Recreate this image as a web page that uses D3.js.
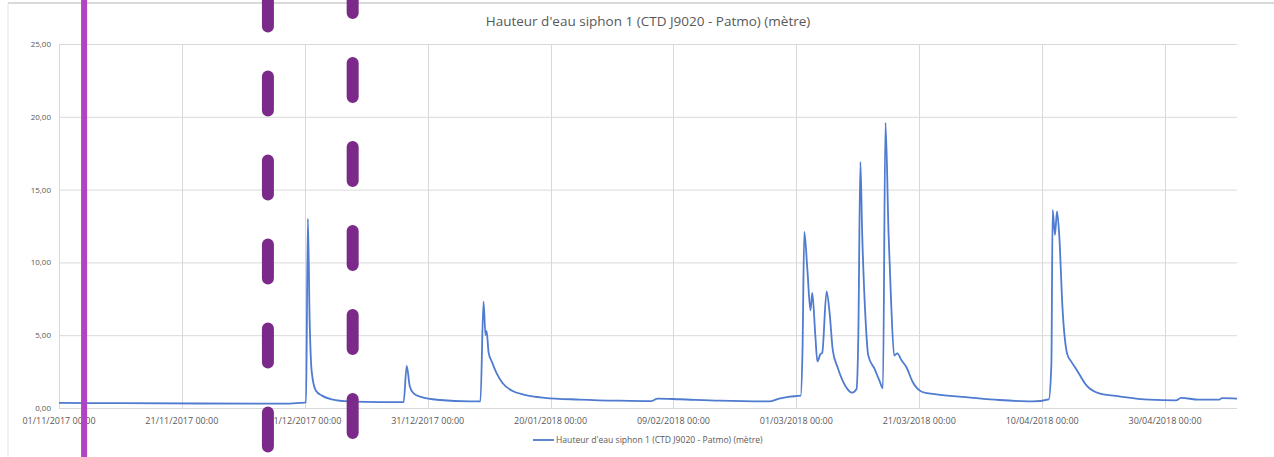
<!DOCTYPE html>
<html>
<head>
<meta charset="utf-8">
<script src="https://cdn.jsdelivr.net/npm/d3@7"></script>
<style>
  body { margin: 0; background: #fff; }
  svg text { font-family: 'Open Sans', 'Liberation Sans', sans-serif; fill: #595959; }
</style>
</head>
<body>
<div id="visualization"></div>
<script>
const width = 1274
const height = 457

const title = "Hauteur d'eau siphon 1 (CTD J9020 - Patmo) (mètre)"

/* Series: date, water height (m) */
const dates = [
    '2017-11-01T00:00', '2017-11-11T00:00', '2017-11-24T00:00', '2017-12-08T14:00', '2017-12-10T05:00',
    '2017-12-11T05:00', '2017-12-11T12:00', '2017-12-11T19:00', '2017-12-12T03:00', '2017-12-12T19:00',
    '2017-12-13T19:00', '2017-12-15T10:00', '2017-12-18T07:00', '2017-12-23T05:00', '2017-12-27T02:00',
    '2017-12-27T14:00', '2017-12-28T02:00', '2017-12-28T17:00', '2017-12-30T00:00', '2018-01-02T00:00',
    '2018-01-06T19:00', '2018-01-08T14:00', '2018-01-09T02:00', '2018-01-09T10:00', '2018-01-09T14:00',
    '2018-01-09T22:00', '2018-01-10T10:00', '2018-01-11T05:00', '2018-01-12T05:00', '2018-01-13T16:00',
    '2018-01-15T19:00', '2018-01-19T00:00', '2018-01-24T17:00', '2018-01-31T05:00', '2018-02-05T10:00',
    '2018-02-06T10:00', '2018-02-10T00:00', '2018-02-16T12:00', '2018-02-24T14:00', '2018-02-26T05:00',
    '2018-02-27T22:00', '2018-03-01T17:00', '2018-03-02T00:00', '2018-03-02T07:00', '2018-03-02T19:00',
    '2018-03-03T07:00', '2018-03-03T14:00', '2018-03-04T02:00', '2018-03-04T10:00', '2018-03-04T22:00',
    '2018-03-05T05:00', '2018-03-05T22:00', '2018-03-06T10:00', '2018-03-06T22:00', '2018-03-07T17:00',
    '2018-03-09T00:00', '2018-03-10T02:00', '2018-03-10T19:00', '2018-03-11T02:00', '2018-03-11T10:00',
    '2018-03-11T17:00', '2018-03-12T05:00', '2018-03-12T17:00', '2018-03-13T17:00', '2018-03-14T12:00',
    '2018-03-15T02:00', '2018-03-15T12:00', '2018-03-16T00:00', '2018-03-16T10:00', '2018-03-16T22:00',
    '2018-03-17T10:00', '2018-03-18T02:00', '2018-03-18T22:00', '2018-03-19T22:00', '2018-03-21T12:00',
    '2018-03-23T19:00', '2018-03-28T14:00', '2018-04-03T00:00', '2018-04-08T10:00', '2018-04-11T02:00',
    '2018-04-11T12:00', '2018-04-11T17:00', '2018-04-12T02:00', '2018-04-12T10:00', '2018-04-12T19:00',
    '2018-04-13T07:00', '2018-04-14T02:00', '2018-04-14T17:00', '2018-04-15T12:00', '2018-04-17T05:00',
    '2018-04-19T07:00', '2018-04-22T12:00', '2018-04-27T10:00', '2018-05-01T19:00', '2018-05-02T14:00',
    '2018-05-05T12:00', '2018-05-08T19:00', '2018-05-09T07:00', '2018-05-11T17:00'
]
const heights = [
    0.35, 0.33, 0.31, 0.30, 0.35,
    0.38, 13.0, 6.0, 2.5, 1.2,
    0.85, 0.6, 0.45, 0.4, 0.4,
    2.9, 1.5, 1.0, 0.75, 0.55,
    0.45, 0.45, 7.3, 5.0, 5.3,
    3.8, 3.2, 2.4, 1.7, 1.2,
    0.9, 0.7, 0.58, 0.5, 0.47,
    0.65, 0.6, 0.5, 0.45, 0.65,
    0.78, 0.85, 4.0, 12.1, 9.5,
    6.7, 7.9, 5.0, 3.2, 3.7,
    3.8, 8.0, 6.5, 4.0, 2.8,
    1.5, 1.05, 1.3, 5.0, 16.9,
    12.0, 6.5, 3.6, 2.7, 1.9,
    1.35, 19.6, 12.0, 7.3, 3.6,
    3.75, 3.3, 2.8, 1.8, 1.1,
    0.93, 0.75, 0.55, 0.45, 0.6,
    3.0, 13.6, 11.9, 13.5, 11.8,
    7.0, 3.7, 3.2, 2.7, 1.55,
    1.0, 0.8, 0.57, 0.52, 0.7,
    0.57, 0.57, 0.68, 0.65
]

/* Axis ticks */
const xTicks = ['2017-11-01', '2017-11-21', '2017-12-11', '2017-12-31', '2018-01-20',
    '2018-02-09', '2018-03-01', '2018-03-21', '2018-04-10', '2018-04-30']
const yTicks = [0, 5, 10, 15, 20, 25]

/* Marker lines drawn over the chart */
const markerSolid = ['2017-11-05T02:00']
const markerDashed = ['2017-12-05T00:00', '2017-12-18T19:00']

const parse = d3.isoParse
const data = dates.map((d, i) => ({ date: parse(d), value: heights[i] }))

const x = d3.scaleTime()
    .domain([parse('2017-11-01T00:00'), parse('2018-05-11T17:00')])
    .range([59, 1237])
const y = d3.scaleLinear().domain([0, 25]).range([408, 44])

const svg = d3.select('#visualization').append('svg').attr('width', width).attr('height', height)

/* Chart frame */
svg.append('line').attr('x1', 8).attr('x2', width).attr('y1', 3).attr('y2', 3)
    .attr('stroke', '#d9d9d9').attr('stroke-width', 2)
svg.append('line').attr('x1', 8).attr('x2', 8).attr('y1', 3).attr('y2', height)
    .attr('stroke', '#e3e3e3').attr('stroke-width', 1)

svg.append('text')
    .attr('x', 648).attr('y', 26)
    .attr('text-anchor', 'middle')
    .attr('font-size', '13.5px')
    .text(title)

/* Grid */
const tickDates = xTicks.map(parse)
svg.append('g')
    .selectAll('line')
    .data(yTicks)
    .join('line')
    .attr('x1', x.range()[0]).attr('x2', x.range()[1])
    .attr('y1', d => y(d) + 0.5).attr('y2', d => y(d) + 0.5)
    .attr('stroke', '#d9d9d9')
svg.append('g')
    .selectAll('line')
    .data(tickDates)
    .join('line')
    .attr('x1', d => Math.round(x(d)) + 0.5).attr('x2', d => Math.round(x(d)) + 0.5)
    .attr('y1', y(25)).attr('y2', y(0))
    .attr('stroke', '#d9d9d9')

/* Y labels */
svg.append('g')
    .selectAll('text')
    .data(yTicks)
    .join('text')
    .attr('x', 51)
    .attr('y', d => y(d) + 3)
    .attr('text-anchor', 'end')
    .attr('font-size', '8px')
    .text(d => d3.format('.2f')(d).replace('.', ','))

/* X labels */
const fmt = d3.timeFormat('%d/%m/%Y %H:%M')
svg.append('g')
    .selectAll('text')
    .data(tickDates)
    .join('text')
    .attr('x', d => x(d))
    .attr('y', 424)
    .attr('text-anchor', 'middle')
    .attr('font-size', '9px')
    .text(d => fmt(d))

/* Series */
const line = d3.line().x(d => x(d.date)).y(d => y(d.value)).curve(d3.curveMonotoneX)
svg.append('path')
    .datum(data)
    .attr('d', line)
    .attr('fill', 'none')
    .attr('stroke', '#4f7bd0')
    .attr('stroke-width', 1.8)
    .attr('stroke-linejoin', 'round')

/* Legend */
svg.append('line').attr('x1', 533).attr('x2', 554).attr('y1', 440).attr('y2', 440)
    .attr('stroke', '#4f7bd0').attr('stroke-width', 1.8)
svg.append('text')
    .attr('x', 556).attr('y', 443)
    .attr('font-size', '8.6px')
    .text(title)

/* Markers */
svg.selectAll('line.solid')
    .data(markerSolid.map(parse))
    .join('line')
    .attr('class', 'solid')
    .attr('x1', d => x(d)).attr('x2', d => x(d))
    .attr('y1', 0).attr('y2', height)
    .attr('stroke', '#b044c4')
    .attr('stroke-width', 6)

const dashStart = [-7.5, -21]
svg.selectAll('line.dashed')
    .data(markerDashed.map(parse))
    .join('line')
    .attr('class', 'dashed')
    .attr('x1', d => x(d)).attr('x2', d => x(d))
    .attr('y1', (d, i) => dashStart[i]).attr('y2', height + 40)
    .attr('stroke', '#7b2a8a')
    .attr('stroke-width', 12)
    .attr('stroke-linecap', 'round')
    .attr('stroke-dasharray', '34 50')
</script>
</body>
</html>
